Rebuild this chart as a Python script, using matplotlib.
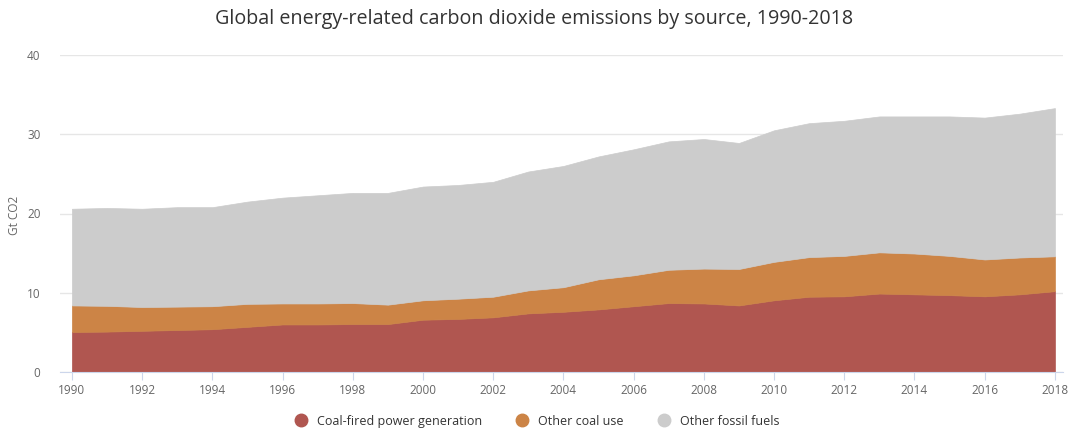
import numpy as np
import matplotlib.pyplot as plt
from matplotlib.lines import Line2D

plt.rcParams['font.family'] = ['Open Sans', 'DejaVu Sans']

years = list(range(1990, 2019))

# cumulative tops (Gt CO2)
red_top = [5.05, 5.1, 5.2, 5.3, 5.4, 5.7, 6.0, 6.0, 6.05, 6.05,
           6.6, 6.7, 6.9, 7.4, 7.6, 7.9, 8.3, 8.7, 8.65, 8.4,
           9.05, 9.5, 9.55, 9.9, 9.8, 9.7, 9.55, 9.8, 10.2]
orange_top = [8.4, 8.35, 8.2, 8.25, 8.3, 8.6, 8.65, 8.65, 8.7, 8.5,
              9.05, 9.25, 9.5, 10.3, 10.7, 11.7, 12.2, 12.9, 13.05, 13.0,
              13.9, 14.5, 14.65, 15.1, 14.95, 14.65, 14.2, 14.45, 14.6]
total_top = [20.6, 20.7, 20.6, 20.8, 20.8, 21.5, 22.0, 22.3, 22.6, 22.6,
             23.4, 23.6, 24.0, 25.3, 26.0, 27.2, 28.1, 29.1, 29.4, 28.9,
             30.5, 31.4, 31.7, 32.25, 32.25, 32.25, 32.1, 32.6, 33.3]

coal_power = np.array(red_top)
other_coal = np.array(orange_top) - coal_power
other_fossil = np.array(total_top) - np.array(orange_top)

labels = ['Coal-fired power generation', 'Other coal use', 'Other fossil fuels']
colors = ['#b05650', '#cc8446', '#cccccc']

fig = plt.figure(figsize=(10.68, 4.33), dpi=100)
ax = fig.add_axes([60 / 1068, (433 - 372) / 433, 1003 / 1068, 317 / 433])

polys = ax.stackplot(years, coal_power, other_coal, other_fossil, colors=colors, linewidth=0)
for p, c in zip(polys, colors):
    p.set_edgecolor(c)
    p.set_linewidth(0.5)

ax.set_xlim(1989.66, 2018.23)
ax.set_ylim(0, 40)
ax.set_yticks([0, 10, 20, 30, 40])
ax.set_xticks(range(1990, 2019, 2))
ax.grid(axis='y', color='#e6e6e6', linewidth=1)
ax.set_axisbelow(True)
for s in ['top', 'right', 'left']:
    ax.spines[s].set_visible(False)
ax.spines['bottom'].set_color('#ccd6eb')
ax.tick_params(axis='y', length=0, labelsize=8.5, labelcolor='#666666', pad=14)
ax.tick_params(axis='x', length=6, color='#ccd6eb', labelsize=8.5, labelcolor='#666666', pad=3)

fig.text(15 / 1068, (433 - 215) / 433, 'Gt CO2', rotation=90, ha='center', va='center',
         fontsize=8.5, color='#666666')

fig.text(0.5, 0.955, 'Global energy-related carbon dioxide emissions by source, 1990-2018',
         ha='center', va='center', fontsize=14.2, color='#333333')

handles = [Line2D([], [], marker='o', linestyle='', markersize=9, color=c) for c in colors]
fig.legend(handles, labels, loc='center', bbox_to_anchor=(0.5, 0.027), ncol=3, frameon=False,
           fontsize=9, handletextpad=0.3, columnspacing=2.2, labelcolor='#333333')

fig.savefig('out.png', dpi=100)
